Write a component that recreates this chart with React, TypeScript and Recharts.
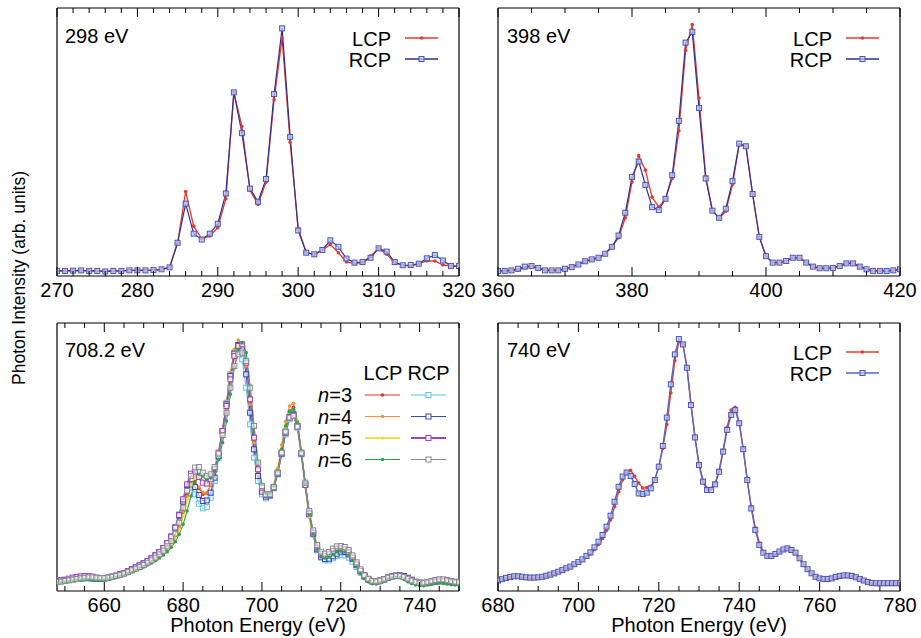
import React from "react";
import { LineChart, Line, XAxis, YAxis } from "recharts";

const FONT = "'Liberation Sans', Arial, Helvetica, sans-serif";

// ---- 298 eV panel ----
const e298 = [270, 271, 272, 273, 274, 275, 276, 277, 278, 279, 280, 281, 282, 283, 284, 285, 286, 287, 288, 289, 290, 291, 292, 293, 294, 295, 296, 297, 298, 299, 300, 301, 302, 303, 304, 305, 306, 307, 308, 309, 310, 311, 312, 313, 314, 315, 316, 317, 318, 319, 320];
const lcp298 = [1.9, 1.9, 2.0, 2.1, 1.9, 1.9, 1.7, 1.9, 1.9, 2.1, 2.1, 2.1, 2.2, 2.5, 3.2,
  12.4, 31.5, 18.6, 13.9, 14.9, 18.0, 28.8, 68.5, 55.8, 32.0, 26.7, 35.0, 65.8, 88.7, 49.9,
  17.6, 8.9, 7.9, 9.7, 11.8, 8.7, 5.2, 4.7, 5.0, 7.4, 10.3, 8.1, 5.0, 4.0, 3.7, 4.6, 5.6, 5.6, 4.1, 3.7, 3.7];
const rcp298 = [1.9, 1.9, 2.0, 2.1, 1.9, 1.9, 1.7, 1.9, 1.9, 2.1, 2.1, 2.1, 2.2, 2.5, 3.2,
  12.4, 27.0, 15.8, 13.6, 15.8, 19.5, 30.8, 68.5, 53.3, 32.6, 27.7, 36.2, 67.9, 92.4, 51.9,
  17.0, 8.7, 8.1, 9.7, 13.3, 10.9, 6.5, 5.0, 5.2, 6.8, 10.3, 9.1, 5.2, 4.0, 4.1, 4.6, 6.6, 7.8, 5.8, 3.7, 3.7];
const ticks298 = [270, 272, 274, 276, 278, 280, 282, 284, 286, 288, 290, 292, 294, 296, 298, 300, 302, 304, 306, 308, 310, 312, 314, 316, 318, 320];
const labels298 = [270, 280, 290, 300, 310, 320];

// ---- 398 eV panel ----
const e398 = [360, 361, 362, 363, 364, 365, 366, 367, 368, 369, 370, 371, 372, 373, 374, 375, 376, 377, 378, 379, 380, 381, 382, 383, 384, 385, 386, 387, 388, 389, 390, 391, 392, 393, 394, 395, 396, 397, 398, 399, 400, 401, 402, 403, 404, 405, 406, 407, 408, 409, 410, 411, 412, 413, 414, 415, 416, 417, 418, 419, 420];
const lcp398 = [1.9, 1.9, 2.1, 2.2, 3.1, 3.7, 3.0, 2.1, 2.1, 2.1,
  2.7, 3.3, 4.3, 5.5, 6.2, 6.8, 8.3, 10.9, 14.3, 21.7,
  35.1, 44.9, 39.5, 29.4, 25.8, 28.8, 36.4, 54.2, 84.1, 93.8,
  66.4, 37.2, 24.4, 21.5, 24.2, 34.1, 49.0, 48.4, 30.6, 14.6,
  7.4, 5.0, 5.0, 5.6, 6.8, 6.8, 5.0, 3.5, 2.9, 2.9,
  3.0, 3.7, 4.7, 4.7, 3.5, 2.5, 1.9, 1.9, 1.9, 2.1, 2.5];
const rcp398 = [1.9, 1.9, 2.1, 2.7, 3.5, 3.7, 3.0, 2.1, 2.1, 2.1,
  2.7, 3.3, 4.3, 5.5, 6.2, 6.8, 8.3, 10.9, 15.1, 23.6,
  37.0, 42.7, 34.0, 25.7, 24.6, 28.8, 37.6, 57.9, 87.1, 91.1,
  62.7, 36.4, 24.4, 21.7, 25.1, 35.4, 49.4, 48.4, 30.6, 14.6,
  7.4, 5.0, 5.0, 5.6, 6.8, 6.8, 5.0, 3.5, 2.9, 2.9,
  3.0, 3.7, 4.7, 4.7, 3.5, 2.5, 1.9, 1.9, 1.9, 2.1, 2.5];
const ticks398 = [360, 365, 370, 375, 380, 385, 390, 395, 400, 405, 410, 415, 420];
const labels398 = [360, 380, 400, 420];

// ---- 708.2 eV panel (n = 3..6) ----
const e708 = [648, 649, 650, 651, 652, 653, 654, 655, 656, 657, 658, 659, 660, 661, 662, 663, 664, 665, 666, 667, 668, 669, 670, 671, 672, 673, 674, 675, 676, 677, 678, 679, 680, 681, 682, 683, 684, 685, 686, 687, 688, 689, 690, 691, 692, 693, 694, 695, 696, 697, 698, 699, 700, 701, 702, 703, 704, 705, 706, 707, 708, 709, 710, 711, 712, 713, 714, 715, 716, 717, 718, 719, 720, 721, 722, 723, 724, 725, 726, 727, 728, 729, 730, 731, 732, 733, 734, 735, 736, 737, 738, 739, 740, 741, 742, 743, 744, 745, 746, 747, 748, 749, 750];
const lcpN3 = [26, 27, 28, 30, 32, 34, 35, 36, 36, 35,
  34, 34, 35, 37, 40, 43, 47, 51, 56, 61,
  66, 71, 77, 83, 90, 98, 107, 117, 129, 145,
  165, 191, 238, 288, 323, 328, 308, 290, 293, 318,
  358, 413, 478, 558, 643, 713, 738, 740, 675, 563,
  448, 355, 303, 285, 288, 313, 358, 423, 493, 540,
  551, 503, 413, 313, 223, 168, 123, 103, 98, 101,
  111, 120, 123, 121, 113, 98, 78, 58, 43, 33,
  28, 28, 31, 35, 40, 43, 44, 43, 39, 33,
  27, 23, 21, 21, 23, 25, 27, 28, 27, 25,
  23, 22, 21];
const lcpN4 = [25, 26, 28, 30, 32, 33, 34, 35, 35, 34,
  34, 34, 35, 37, 40, 43, 47, 51, 56, 61,
  66, 71, 77, 83, 90, 98, 106, 116, 128, 143,
  163, 190, 235, 283, 318, 325, 312, 295, 295, 318,
  360, 418, 485, 568, 655, 725, 753, 745, 675, 560,
  445, 352, 300, 283, 290, 318, 368, 438, 508, 555,
  563, 510, 415, 312, 222, 165, 121, 102, 98, 101,
  110, 118, 122, 120, 112, 97, 77, 57, 42, 32,
  27, 27, 30, 34, 39, 42, 43, 42, 38, 32,
  26, 22, 20, 20, 22, 24, 26, 27, 26, 24,
  22, 21, 20];
const lcpN5 = [26, 27, 28, 30, 32, 34, 35, 36, 36, 35,
  34, 34, 35, 37, 40, 43, 46, 50, 55, 60,
  65, 70, 76, 82, 89, 96, 105, 115, 126, 141,
  160, 185, 225, 275, 318, 343, 345, 328, 318, 328,
  360, 410, 472, 550, 635, 705, 733, 735, 680, 575,
  460, 365, 310, 288, 288, 310, 355, 420, 490, 538,
  545, 500, 412, 315, 225, 170, 125, 105, 100, 103,
  113, 122, 125, 123, 115, 100, 80, 60, 45, 34,
  28, 27, 30, 34, 39, 42, 43, 42, 38, 32,
  26, 22, 20, 20, 22, 24, 26, 27, 26, 24,
  22, 21, 20];
const lcpN6 = [24, 25, 26, 28, 30, 32, 33, 34, 34, 33,
  32, 32, 33, 35, 38, 41, 44, 48, 52, 57,
  62, 67, 72, 78, 84, 91, 99, 108, 118, 131,
  148, 170, 200, 240, 285, 325, 350, 345, 335, 340,
  360, 395, 445, 510, 590, 670, 725, 745, 715, 615,
  490, 385, 320, 292, 292, 315, 360, 425, 495, 538,
  545, 505, 420, 322, 230, 172, 126, 104, 99, 102,
  110, 118, 120, 117, 108, 92, 72, 52, 37, 27,
  22, 21, 24, 29, 35, 39, 41, 40, 35, 28,
  22, 18, 16, 16, 18, 21, 23, 24, 23, 21,
  19, 18, 17];
const rcpN3 = [33, 33, 33, 34, 35, 36, 37, 38, 38, 37,
  36, 36, 37, 39, 42, 45, 49, 53, 58, 64,
  70, 76, 82, 89, 97, 106, 116, 128, 143, 163,
  192, 230, 275, 308, 310, 290, 262, 248, 252, 280,
  330, 400, 480, 565, 650, 715, 725, 695, 610, 500,
  400, 330, 290, 278, 285, 308, 350, 410, 470, 515,
  525, 490, 410, 318, 230, 170, 122, 100, 92, 92,
  98, 105, 108, 107, 100, 88, 72, 55, 42, 33,
  28, 28, 31, 35, 40, 44, 46, 46, 43, 38,
  32, 27, 24, 23, 24, 26, 28, 30, 30, 29,
  27, 26, 25];
const rcpN4 = [30, 31, 32, 33, 35, 37, 38, 39, 39, 38,
  37, 37, 38, 40, 43, 46, 50, 54, 59, 65,
  71, 77, 83, 90, 98, 107, 117, 129, 144, 163,
  190, 226, 268, 303, 320, 312, 288, 270, 272, 295,
  340, 405, 480, 560, 645, 712, 738, 725, 650, 535,
  425, 345, 298, 283, 287, 310, 352, 412, 475, 520,
  530, 495, 413, 320, 232, 172, 125, 103, 96, 97,
  104, 112, 118, 117, 110, 96, 78, 60, 46, 36,
  30, 29, 31, 35, 40, 44, 46, 47, 45, 40,
  34, 28, 25, 24, 25, 27, 29, 31, 31, 30,
  28, 27, 26];
const rcpN5 = [30, 32, 34, 37, 40, 42, 44, 45, 45, 43,
  40, 38, 38, 40, 43, 46, 50, 54, 59, 65,
  71, 77, 83, 90, 98, 107, 117, 129, 144, 163,
  190, 228, 275, 320, 352, 358, 342, 325, 322, 335,
  365, 415, 480, 555, 635, 705, 735, 740, 685, 575,
  460, 365, 310, 288, 290, 312, 355, 415, 478, 522,
  528, 493, 412, 318, 232, 175, 130, 110, 105, 110,
  120, 127, 128, 125, 116, 100, 80, 60, 45, 35,
  29, 28, 31, 35, 40, 44, 46, 46, 43, 38,
  32, 27, 24, 23, 24, 26, 28, 29, 29, 28,
  26, 25, 24];
const rcpN6 = [27, 28, 30, 32, 34, 36, 38, 40, 41, 41,
  40, 39, 39, 40, 42, 45, 48, 52, 57, 62,
  67, 72, 78, 85, 92, 100, 110, 121, 134, 150,
  172, 205, 250, 300, 345, 370, 372, 355, 345, 350,
  372, 412, 468, 535, 610, 675, 710, 715, 690, 610,
  495, 385, 315, 290, 290, 312, 355, 415, 478, 520,
  525, 493, 415, 325, 240, 182, 138, 118, 112, 117,
  127, 134, 135, 132, 123, 107, 86, 65, 48, 37,
  30, 29, 31, 35, 40, 43, 45, 45, 42, 37,
  31, 27, 25, 25, 27, 30, 33, 35, 35, 33,
  30, 28, 27];
const ticks708 = [650, 655, 660, 665, 670, 675, 680, 685, 690, 695, 700, 705, 710, 715, 720, 725, 730, 735, 740, 745, 750];
const labels708 = [660, 680, 700, 720, 740];
const nValues = [3, 4, 5, 6];

// ---- 740 eV panel ----
const e740 = [680, 681, 682, 683, 684, 685, 686, 687, 688, 689, 690, 691, 692, 693, 694, 695, 696, 697, 698, 699, 700, 701, 702, 703, 704, 705, 706, 707, 708, 709, 710, 711, 712, 713, 714, 715, 716, 717, 718, 719, 720, 721, 722, 723, 724, 725, 726, 727, 728, 729, 730, 731, 732, 733, 734, 735, 736, 737, 738, 739, 740, 741, 742, 743, 744, 745, 746, 747, 748, 749, 750, 751, 752, 753, 754, 755, 756, 757, 758, 759, 760, 761, 762, 763, 764, 765, 766, 767, 768, 769, 770, 771, 772, 773, 774, 775, 776, 777, 778, 779, 780];
const lcp740 = [3.7, 4.2, 4.7, 5.0, 5.3, 5.3, 5.1, 4.9, 4.8, 4.8,
  4.9, 5.1, 5.5, 5.9, 6.4, 7.0, 7.6, 8.3, 8.9, 9.7,
  10.5, 11.4, 12.6, 13.8, 15.5, 17.4, 19.6, 22.6, 26.6, 31.5,
  37.0, 41.5, 44.5, 45.0, 42.8, 40.3, 38.4, 38.6, 39.1, 41.6,
  46.4, 53.2, 62.1, 74.0, 85.9, 93.0, 92.0, 83.6, 70.0, 57.5,
  47.4, 41.3, 38.3, 38.3, 40.2, 45.0, 52.6, 61.1, 67.5, 68.5,
  62.9, 53.2, 41.4, 31.6, 23.6, 18.0, 14.7, 13.1, 13.0, 13.6,
  14.5, 15.3, 15.8, 15.2, 14.1, 12.0, 9.8, 7.9, 6.4, 5.1,
  4.5, 4.3, 4.3, 4.5, 5.0, 5.4, 5.6, 5.6, 5.4, 4.9,
  4.3, 3.7, 3.2, 2.8, 2.6, 2.6, 2.6, 2.6, 2.6, 2.6, 2.6];
const rcp740 = [3.9, 4.4, 4.9, 5.2, 5.5, 5.5, 5.3, 5.1, 5.0, 5.0,
  5.1, 5.3, 5.7, 6.1, 6.6, 7.2, 7.8, 8.5, 9.1, 10.0,
  10.8, 11.8, 13.1, 14.4, 16.3, 18.4, 20.9, 24.0, 28.1, 33.3,
  38.9, 42.7, 44.2, 42.9, 39.9, 36.4, 36.2, 36.7, 38.3, 41.4,
  46.4, 54.1, 64.7, 77.1, 88.3, 94.0, 92.0, 83.3, 69.4, 57.3,
  47.0, 40.8, 37.7, 37.7, 39.8, 44.5, 52.0, 60.1, 65.7, 67.5,
  62.6, 52.9, 41.4, 30.8, 22.8, 17.2, 14.3, 13.1, 13.1, 13.8,
  14.7, 15.5, 15.9, 15.3, 14.3, 12.2, 10.0, 8.1, 6.6, 5.3,
  4.7, 4.5, 4.5, 4.7, 5.2, 5.6, 5.8, 5.8, 5.6, 5.1,
  4.5, 3.9, 3.4, 3.0, 2.9, 2.9, 2.9, 2.9, 2.9, 2.9, 2.9];
const ticks740 = [680, 685, 690, 695, 700, 705, 710, 715, 720, 725, 730, 735, 740, 745, 750, 755, 760, 765, 770, 775, 780];
const labels740 = [680, 700, 720, 740, 760, 780];

type Series = {
  key: string;
  values: number[];
  color: string;
  marker: "dot" | "square";
  markColor?: string;
  fill?: string;
  width?: number;
};

const squareDot = (stroke: string, fill: string) => (props: any) => {
  const { cx, cy, index } = props;
  if (cx == null || cy == null) return <g key={`s${index}`} />;
  return (
    <rect key={`s${index}`} x={cx - 2.5} y={cy - 2.5} width={5} height={5}
      fill={fill} stroke={stroke} strokeWidth={1} />
  );
};

const tickRenderer = (labels: number[], side: "top" | "bottom") => (props: any) => {
  const { x, y, payload } = props;
  const major = labels.includes(payload.value);
  const len = major ? 9 : 5;
  const dir = side === "bottom" ? -1 : 1;
  return (
    <g>
      <line x1={x} x2={x} y1={y} y2={y + dir * len} stroke="#000" strokeWidth={1} />
      {side === "bottom" && major && (
        <text x={x} y={y + 20.5} textAnchor="middle" fontSize={20} fontFamily={FONT} fill="#000">
          {payload.value}
        </text>
      )}
    </g>
  );
};

const W = 402;
const H = 268;

function Panel({ left, top, energies, series, domain, ticks, labels, yMax }: {
  left: number; top: number; energies: number[]; series: Series[];
  domain: [number, number]; ticks: number[]; labels: number[]; yMax: number;
}) {
  // axes get 1px each (zero-size axes are not drawn), margins make up the rest
  const m = { top: 9, right: 39, bottom: 39, left: 39 };
  const data = energies.map((e, i) => {
    const row: Record<string, number> = { e };
    series.forEach((s) => { row[s.key] = s.values[i]; });
    return row;
  });
  const frame = { stroke: "#000", strokeWidth: 1.2 };
  return (
    <div style={{ position: "absolute", left: left - 40, top: top - 10 }}>
      <LineChart width={W + 80} height={H + 50} data={data} margin={m}>
        <XAxis xAxisId="b" dataKey="e" type="number" domain={domain} ticks={ticks} interval={0}
          allowDataOverflow height={1} tickSize={0} tickMargin={0} tickLine={false}
          axisLine={frame} tick={tickRenderer(labels, "bottom")} />
        <XAxis xAxisId="t" orientation="top" dataKey="e" type="number" domain={domain} ticks={ticks}
          interval={0} allowDataOverflow height={1} tickSize={0} tickMargin={0} tickLine={false}
          axisLine={frame} tick={tickRenderer(labels, "top")} />
        <YAxis yAxisId="l" type="number" domain={[0, yMax]} width={1} tick={false} tickLine={false}
          axisLine={frame} allowDataOverflow />
        <YAxis yAxisId="r" orientation="right" type="number" domain={[0, yMax]} width={1} tick={false}
          tickLine={false} axisLine={frame} allowDataOverflow />
        {series.map((s) => (
          <Line key={s.key} xAxisId="b" yAxisId="l" type="linear" dataKey={s.key}
            stroke={s.color} strokeWidth={s.width ?? 1.2} isAnimationActive={false} activeDot={false}
            dot={s.marker === "dot"
              ? { r: 1.8, fill: s.markColor ?? s.color, stroke: "none" }
              : squareDot(s.markColor ?? s.color, s.fill ?? "rgba(255,255,255,0.7)")} />
        ))}
      </LineChart>
    </div>
  );
}

const RED = "#e8382d";
const NAVY = "#2e3192";
const SQ = "#4656bd";
const SQFILL = "rgba(190,200,238,0.75)";

const lcpColors = ["#e4312b", "#f7923a", "#efe243", "#22a64a"];
const rcpColors = ["#5ec3df", "#3d47b3", "#9a42cc", "#8a8a8a"];
const lcpN = [lcpN3, lcpN4, lcpN5, lcpN6];
const rcpN = [rcpN3, rcpN4, rcpN5, rcpN6];

const series708: Series[] = [];
nValues.forEach((n, i) => {
  series708.push({ key: `lcp${n}`, values: lcpN[i], color: lcpColors[i], marker: "dot", width: n === 5 ? 1.6 : 1.1 });
  series708.push({ key: `rcp${n}`, values: rcpN[i], color: rcpColors[i], marker: "square", width: n === 5 ? 1.6 : 1.1, fill: "rgba(255,255,255,0.55)" });
});

function TwoLegend({ x, y, rcpLine }: { x: number; y: number; rcpLine: string }) {
  // x: right edge of text, y: baseline of first row
  return (
    <g fontFamily={FONT} fontSize={20}>
      <text x={x} y={y} textAnchor="end">LCP</text>
      <text x={x} y={y + 21} textAnchor="end">RCP</text>
      <line x1={x + 14} x2={x + 47} y1={y - 8} y2={y - 8} stroke={RED} strokeWidth={1.3} />
      <circle cx={x + 30.5} cy={y - 8} r={1.8} fill={RED} />
      <line x1={x + 14} x2={x + 47} y1={y + 13} y2={y + 13} stroke={rcpLine} strokeWidth={1.3} />
      <rect x={x + 28} y={y + 10.5} width={5} height={5} fill={SQFILL} stroke={SQ} strokeWidth={1} />
    </g>
  );
}

export default function App() {
  return (
    <div style={{ position: "absolute", left: 0, top: 0, width: 921, height: 638, background: "#fff", overflow: "hidden" }}>
      <Panel left={57} top={8} energies={e298} domain={[270, 320]} ticks={ticks298} labels={labels298} yMax={100}
        series={[
          { key: "lcp", values: lcp298, color: RED, marker: "dot", width: 1.3 },
          { key: "rcp", values: rcp298, color: NAVY, marker: "square", markColor: SQ, fill: SQFILL, width: 1.2 },
        ]} />
      <Panel left={498} top={8} energies={e398} domain={[360, 420]} ticks={ticks398} labels={labels398} yMax={100}
        series={[
          { key: "lcp", values: lcp398, color: RED, marker: "dot", width: 1.3 },
          { key: "rcp", values: rcp398, color: NAVY, marker: "square", markColor: SQ, fill: SQFILL, width: 1.2 },
        ]} />
      <Panel left={57} top={323} energies={e708} domain={[648, 750]} ticks={ticks708} labels={labels708} yMax={804}
        series={series708} />
      <Panel left={498} top={323} energies={e740} domain={[680, 780]} ticks={ticks740} labels={labels740} yMax={100}
        series={[
          { key: "lcp", values: lcp740, color: RED, marker: "dot", width: 1.3 },
          { key: "rcp", values: rcp740, color: "#5566c4", marker: "square", markColor: SQ, fill: SQFILL, width: 1.4 },
        ]} />

      <svg width={921} height={638} style={{ position: "absolute", left: 0, top: 0, pointerEvents: "none" }}>
        <g fontFamily={FONT} fontSize={20} fill="#000">
          <text x={65} y={43}>298 eV</text>
          <text x={507} y={43}>398 eV</text>
          <text x={65} y={357}>708.2 eV</text>
          <text x={507} y={357}>740 eV</text>
          <text x={258} y={632} textAnchor="middle">Photon Energy (eV)</text>
          <text x={699} y={632} textAnchor="middle">Photon Energy (eV)</text>
        </g>
        <text x={0} y={0} transform="translate(25,278) rotate(-90)" textAnchor="middle"
          fontFamily={FONT} fontSize={17.5} fill="#000">Photon Intensity (arb. units)</text>

        <TwoLegend x={391} y={46} rcpLine={NAVY} />
        <TwoLegend x={832} y={46} rcpLine={NAVY} />
        <TwoLegend x={832} y={360} rcpLine="#5566c4" />

        <g fontFamily={FONT} fontSize={20} fill="#000">
          <text x={383} y={380} textAnchor="middle">LCP</text>
          <text x={428.5} y={380} textAnchor="middle">RCP</text>
          {nValues.map((n, i) => {
            const by = 402 + i * 21.5;
            const ly = by - 7;
            const w = n === 5 ? 2 : 1.2;
            return (
              <g key={n}>
                <text x={352} y={by} textAnchor="end">
                  <tspan fontStyle="italic">n</tspan>={n}
                </text>
                <line x1={365} x2={400} y1={ly} y2={ly} stroke={lcpColors[i]} strokeWidth={w} />
                <circle cx={382.5} cy={ly} r={1.8} fill={lcpColors[i]} />
                <line x1={411} x2={446} y1={ly} y2={ly} stroke={rcpColors[i]} strokeWidth={w} />
                <rect x={426} y={ly - 2.5} width={5} height={5} fill="#fff" stroke={rcpColors[i]} strokeWidth={1} />
              </g>
            );
          })}
        </g>
      </svg>
    </div>
  );
}
